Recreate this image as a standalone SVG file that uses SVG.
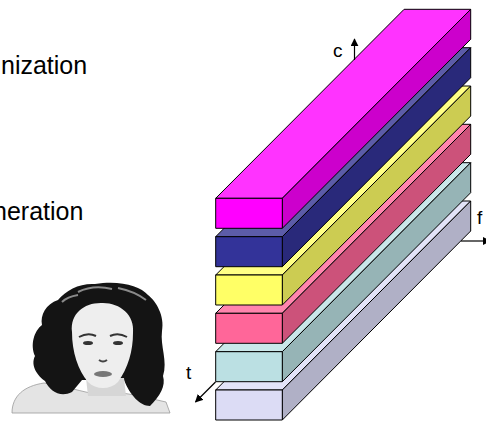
<svg xmlns="http://www.w3.org/2000/svg" width="486" height="421" viewBox="0 0 486 421">
<defs>
<style>
.lbl{font-family:"Liberation Sans",Arial,sans-serif;fill:#000}
.big{font-size:25px}
.ax{font-size:19px}
.box rect,.box polygon{stroke:#000;stroke-width:1;stroke-linejoin:round}
.conn line{stroke:#000;stroke-width:1.2}
</style>
<marker id="ah" viewBox="0 0 10 10" refX="9" refY="5" markerWidth="8" markerHeight="8" markerUnits="userSpaceOnUse" orient="auto">
<path d="M0,0 L10,5 L0,10 Z" fill="#000"/>
</marker>
</defs>
<rect width="486" height="421" fill="#fff"/>

<text class="lbl big" x="1" y="74">nization</text>
<text class="lbl big" x="-7" y="219.5">neration</text>

<g id="photo">
<path d="M12,413 C12,396 24,386 44,383 C60,385 76,390 90,393 L122,393 C138,395 152,399 166,402 L170,413 Z" fill="#e4e4e4" stroke="#9a9a9a" stroke-width="0.8"/>
<path d="M95,284 C80,283 66,290 58,300 C46,304 40,315 42,325 C34,331 30,345 35,356 C30,366 38,376 45,381 C50,391 60,398 72,392 L82,380 L124,380 C130,395 140,406 150,406 C160,396 166,386 163,376 C168,361 160,346 162,331 C165,316 156,301 148,295 C140,286 120,280 95,284 Z" fill="#141414"/>
<path d="M78,292 C88,287 100,286 112,289 M118,288 C128,290 138,294 146,300 M62,302 C66,298 72,296 78,295" fill="none" stroke="#8a8a8a" stroke-width="2"/>
<path d="M86,378 L124,378 L126,396 L88,396 Z" fill="#d6d6d6"/>
<path d="M72,332 C70,313 85,302 103,303 C120,303 135,315 133,333 C133,351 128,368 118,382 C110,390 96,390 88,382 C78,370 72,352 72,332 Z" fill="#eeeeee"/>
<path d="M79,337 Q88,332 96,336 M110,336 Q118,332 127,337" fill="none" stroke="#333" stroke-width="2"/>
<ellipse cx="88" cy="343" rx="5" ry="2" fill="#333"/>
<ellipse cx="118" cy="343" rx="5" ry="2" fill="#333"/>
<path d="M99,360 Q103,363 107,360" fill="none" stroke="#444" stroke-width="2"/>
<ellipse cx="103" cy="374" rx="9" ry="3" fill="#777"/>
</g>

<g id="lavender" class="box">
<polygon points="215.7,390 282.3,390 470.7,201 404.1,201" fill="#E3E3F8"/>
<polygon points="282.3,390 470.7,201 470.7,231 282.3,420" fill="#B0B0C6"/>
<rect x="215.7" y="390" width="66.6" height="30" fill="#DCDCF5"/>
</g>
<g id="teal" class="box">
<polygon points="215.7,351.7 282.3,351.7 470.7,162.7 404.1,162.7" fill="#CAE7E9"/>
<polygon points="282.3,351.7 470.7,162.7 470.7,192.7 282.3,381.7" fill="#96B4B6"/>
<rect x="215.7" y="351.7" width="66.6" height="30" fill="#BBE0E3"/>
</g>
<g id="pink" class="box">
<polygon points="215.7,313.3 282.3,313.3 470.7,124.3 404.1,124.3" fill="#FF85AD"/>
<polygon points="282.3,313.3 470.7,124.3 470.7,154.3 282.3,343.3" fill="#CC527A"/>
<rect x="215.7" y="313.3" width="66.6" height="30" fill="#FF6699"/>
</g>
<g id="yellow" class="box">
<polygon points="215.7,275 282.3,275 470.7,86 404.1,86" fill="#FFFF85"/>
<polygon points="282.3,275 470.7,86 470.7,116 282.3,305" fill="#CCCC52"/>
<rect x="215.7" y="275" width="66.6" height="30" fill="#FFFF66"/>
</g>
<g id="navy" class="box">
<polygon points="215.7,236.7 282.3,236.7 470.7,47.7 404.1,47.7" fill="#5C5CA8"/>
<polygon points="282.3,236.7 470.7,47.7 470.7,77.7 282.3,266.7" fill="#29297A"/>
<rect x="215.7" y="236.7" width="66.6" height="30" fill="#333399"/>
</g>
<g id="magenta" class="box">
<polygon points="215.7,198.3 282.3,198.3 470.7,9.3 404.1,9.3" fill="#FF33FF"/>
<polygon points="282.3,198.3 470.7,9.3 470.7,39.3 282.3,228.3" fill="#CC00CC"/>
<rect x="215.7" y="198.3" width="66.6" height="30" fill="#FF00FF"/>
</g>

<g id="connectors" class="conn">
<line x1="354.5" y1="60" x2="354.5" y2="39" marker-end="url(#ah)"/>
<line x1="461" y1="241" x2="490" y2="241" marker-end="url(#ah)"/>
<line x1="215.5" y1="382" x2="195.5" y2="402" marker-end="url(#ah)"/>
</g>

<text class="lbl ax" x="333" y="57">c</text>
<text class="lbl ax" x="477" y="224">f</text>
<text class="lbl ax" x="186" y="379">t</text>
</svg>
